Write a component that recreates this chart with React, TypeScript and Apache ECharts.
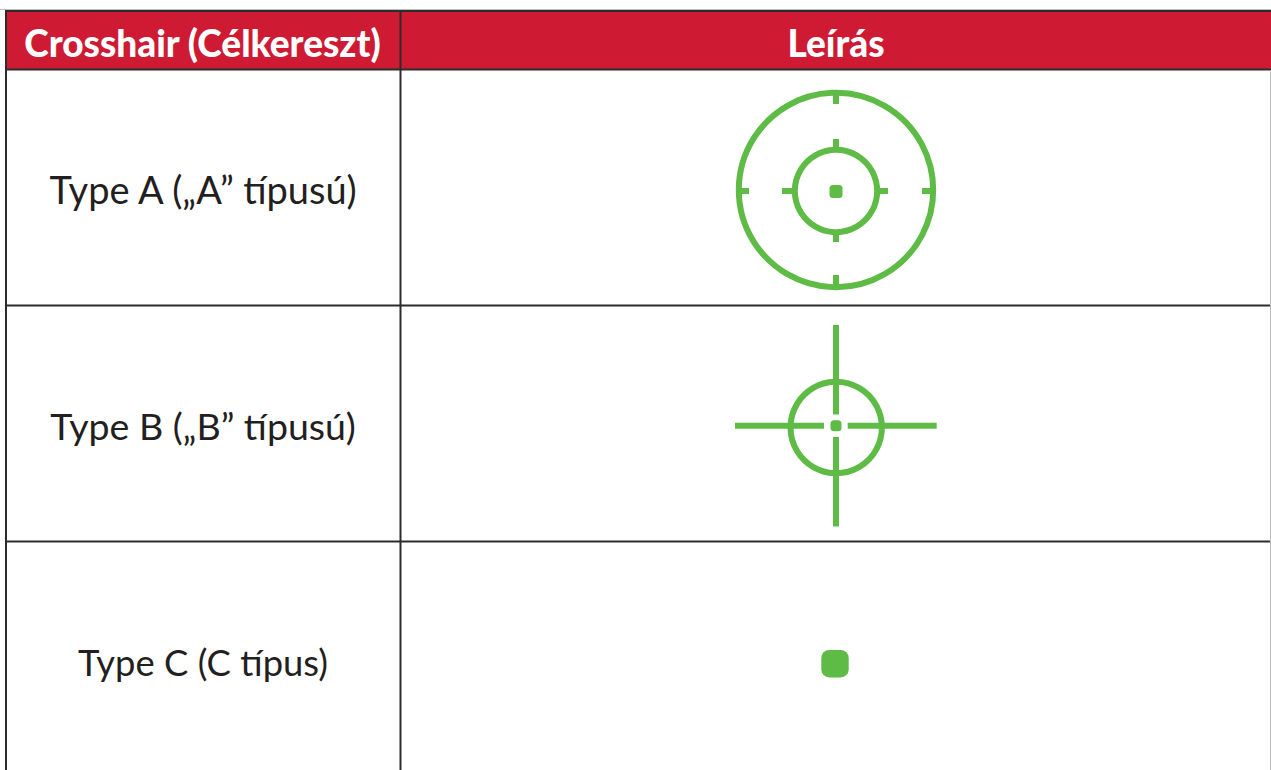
import React, { useEffect, useRef } from "react";
import * as echarts from "echarts";

const headers = ["Crosshair (Célkereszt)", "Leírás"];
const rowLabels = ["Type A („A” típusú)", "Type B („B” típusú)", "Type C (C típus)"];

const RED = "#CE1A32";
const GREEN = "#5DBB46";
const DARK = "#2D2C2D";
const INK = "#231F20";
const FONT = "Lato, Carlito, 'Open Sans', sans-serif";

const line = (x1: number, y1: number, x2: number, y2: number, stroke: string, lineWidth: number) => ({
  type: "line",
  silent: true,
  shape: { x1, y1, x2, y2 },
  style: { stroke, lineWidth },
});
const ring = (cx: number, cy: number, r: number, lineWidth: number) => ({
  type: "circle",
  silent: true,
  shape: { cx, cy, r },
  style: { fill: "none", stroke: GREEN, lineWidth },
});
const dot = (x: number, y: number, w: number, h: number, r: number) => ({
  type: "rect",
  silent: true,
  shape: { x, y, width: w, height: h, r },
  style: { fill: GREEN },
});
const label = (text: string, x: number, y: number, fontSize: number, fill: string, fontWeight: string) => ({
  type: "text",
  silent: true,
  x,
  y,
  style: { text, fontSize, fontFamily: FONT, fontWeight, fill, align: "center", verticalAlign: "middle" },
});

function buildGraphic() {
  const el: any[] = [];
  // header band and table rules
  el.push({ type: "rect", silent: true, shape: { x: 6, y: 11, width: 1265, height: 59 }, style: { fill: RED } });
  el.push(line(0, 9.5, 1271, 9.5, "#BDBDBD", 1));
  el.push(line(5, 11, 1271, 11, DARK, 2));
  el.push(line(5, 69.5, 1271, 69.5, DARK, 2));
  el.push(line(6, 10, 6, 770, DARK, 2));
  el.push(line(400.5, 10, 400.5, 770, DARK, 2));
  el.push(line(6, 305.5, 1271, 305.5, DARK, 2));
  el.push(line(6, 541.5, 1271, 541.5, DARK, 2));
  el.push(line(1270.5, 70, 1270.5, 770, "#BDBDBD", 1));

  // texts
  el.push(label(headers[0], 202.5, 42, 37, "#FFFFFF", "900"));
  el.push(label(headers[1], 836, 42, 37, "#FFFFFF", "900"));
  el.push(label(rowLabels[0], 203, 189, 38, INK, "normal"));
  el.push(label(rowLabels[1], 203, 425, 37.5, INK, "normal"));
  el.push(label(rowLabels[2], 203, 662, 36.4, INK, "normal"));

  // Type A reticle
  el.push(ring(836, 190, 97.2, 6), ring(836, 191, 41.2, 6));
  el.push(line(836, 90, 836, 104, GREEN, 6), line(836, 275, 836, 290, GREEN, 6));
  el.push(line(737, 191, 749, 191, GREEN, 6), line(922, 191, 935, 191, GREEN, 6));
  el.push(line(836, 139, 836, 149, GREEN, 6), line(836, 233, 836, 242, GREEN, 6));
  el.push(line(782, 191, 794, 191, GREEN, 6), line(878, 191, 888, 191, GREEN, 6));
  el.push(dot(829.5, 185, 13, 13, 3.5));

  // Type B reticle
  el.push(ring(836.2, 427.5, 45.7, 6));
  el.push(line(836, 325, 836, 414.5, GREEN, 6), line(836, 437, 836, 526.5, GREEN, 6));
  el.push(line(735, 425.8, 824, 425.8, GREEN, 6), line(847.7, 425.8, 936.7, 425.8, GREEN, 6));
  el.push(dot(830.5, 420.2, 11, 11, 3.5));

  // Type C dot
  el.push(dot(821.3, 650, 27.4, 27.4, 8));
  return el;
}

export default function App() {
  const ref = useRef<HTMLDivElement>(null);
  useEffect(() => {
    const chart = echarts.init(ref.current!, null, { renderer: "svg" });
    chart.setOption({ animation: false, backgroundColor: "#FFFFFF", graphic: { elements: buildGraphic() } });
    return () => chart.dispose();
  }, []);
  return <div ref={ref} style={{ position: "fixed", left: 0, top: 0, width: 1271, height: 770 }} />;
}
